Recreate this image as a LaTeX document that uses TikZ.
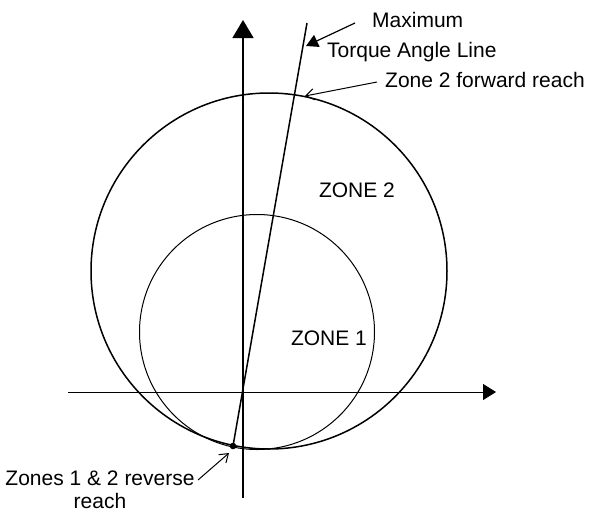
\documentclass[tikz,border=0pt]{standalone}
\usepackage{fontspec}
\setmainfont{Liberation Sans}
\usetikzlibrary{arrows.meta}
\begin{document}
\begin{tikzpicture}[x=1pt,y=-1pt,
  lbl/.style={inner sep=0pt,font=\fontsize{21}{23}\selectfont},
  callout/.style={line width=1pt,-{Straight Barb[length=8pt,width=11pt,line width=1pt]}}]
\useasboundingbox (0,0) rectangle (589,512);
% axes
\coordinate (o) at (243,392);
\coordinate (xl) at (68,392);
\coordinate (xr) at (496,392);
\coordinate (yb) at (243,498);
\coordinate (yt) at (243,20);
\draw[line width=1pt,-{Triangle[length=13pt,width=16pt]}] (xl) -- (xr);
\draw[line width=1.4pt,-{Triangle[length=18pt,width=21pt]}] (yb) -- (yt);
% circles
\coordinate (c2) at (269,271);
\coordinate (c1) at (257,332);
\draw[line width=1.5pt] (c2) circle[radius=178];
\draw[line width=1pt] (c1) circle[radius=117.5];
% MTA line
\coordinate (mtop) at (307,23);
\coordinate (rev) at (233,446);
\draw[line width=1.5pt] (rev) -- (mtop);
\fill (rev) circle[radius=3.3];
% labels
\node[lbl,anchor=base west] (maxl) at (372,27) {Maximum};
\node[lbl,anchor=base west] (tal) at (327,57) {Torque Angle Line};
\node[lbl,anchor=base west] (fwd) at (385,87) {Zone 2 forward reach};
\node[lbl,anchor=base] (z2) at (357,197) {ZONE 2};
\node[lbl,anchor=base] (z1) at (329,345) {ZONE 1};
\node[lbl,align=center,anchor=base] (revl) at (100,508) {Zones 1 \& 2 reverse\\reach};
% callouts
\coordinate (maxs) at (355,23);
\coordinate (maxe) at (306,46);
\draw[line width=1.2pt,-{Triangle[length=12pt,width=13pt]}] (maxs) -- (maxe);
\coordinate (fwds) at (377,82);
\coordinate (fwde) at (305,96);
\draw[callout] (fwds) -- (fwde);
\coordinate (revs) at (198,480);
\coordinate (reve) at (229,453);
\draw[callout] (revs) -- (reve);
\end{tikzpicture}
\end{document}
